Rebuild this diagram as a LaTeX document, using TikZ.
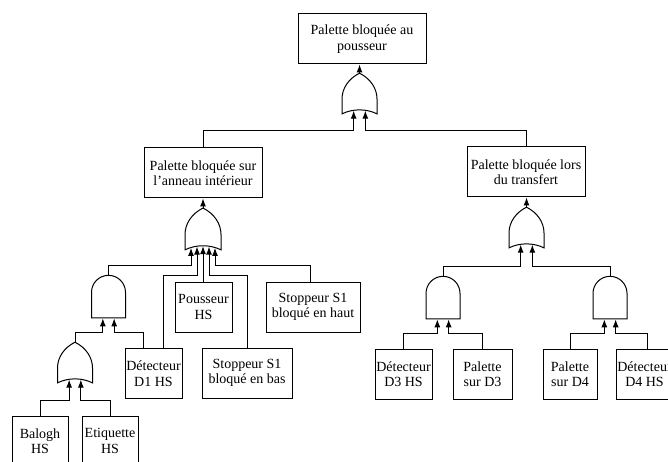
\documentclass[tikz,border=0pt]{standalone}
\usepackage{fontspec}
\setmainfont{Liberation Serif}
\usetikzlibrary{shapes.gates.logic.US,arrows.meta}

\tikzset{
  box/.style={draw, line width=1pt, align=center, inner sep=0pt,
    minimum width=57pt, minimum height=50pt, font=\fontsize{14}{15.5}\selectfont},
  orgate/.style={or gate US, draw, line width=1pt, rotate=90, xscale=0.85, inner sep=0pt,
    minimum width=34pt, minimum height=35pt},
  andgate/.style={and gate US, draw, line width=1pt, rotate=90, inner sep=0pt,
    minimum width=34pt, minimum height=34pt},
  conn/.style={line width=1pt},
  arr/.style={conn, -{Latex[length=8pt,width=6pt]}},
}

\begin{document}
\begin{tikzpicture}[x=1pt,y=-1pt]
\useasboundingbox (0,0) rectangle (668,462);
\clip (0,0) rectangle (668,462);

% Top event
\node[box, minimum width=128pt] (top) at (362,39) {Palette bloquée au\\pousseur};
\node[orgate] (gtop) at (359.5,96.5) {};

% Second level
\node[box, minimum width=118pt] (lmid) at (203,173) {Palette bloquée sur\\l'anneau intérieur};
\node[box, minimum width=118pt] (rmid) at (526,172) {Palette bloquée lors\\du transfert};
\node[orgate, logic gate inputs=nnnnn, minimum width=37pt, minimum height=36pt] (glmid) at (203,232) {};
\node[orgate] (grmid) at (526.5,230.5) {};

% Left branch
\node[andgate] (gand1) at (108.5,298) {};
\node[box] (pous) at (203.5,307) {Pousseur\\HS};
\node[box, minimum width=94pt] (stoph) at (313,307) {Stoppeur S1\\bloqué en haut};
\node[box] (d1) at (153.5,373.5) {Détecteur\\D1 HS};
\node[box, minimum width=90pt] (stopb) at (247,373) {Stoppeur S1\\bloqué en bas};
\node[orgate] (gor2) at (75,365.5) {};
\node[box, minimum width=56pt] (balogh) at (40,441) {Balogh\\HS};
\node[box, minimum width=56pt] (etiq) at (110,441) {Etiquette\\HS};

% Right branch
\node[andgate] (gand2) at (443,299) {};
\node[andgate] (gand3) at (610,299) {};
\node[box] (d3) at (403.5,374) {Détecteur\\D3 HS};
\node[box, minimum width=59pt] (pd3) at (482.5,374) {Palette\\sur D3};
\node[box, minimum width=54pt] (pd4) at (570,374) {Palette\\sur D4};
\node[box] (d4) at (644.5,374) {Détecteur\\D4 HS};

% Levels of the horizontal runs
\coordinate (lv1) at (0,131);
\coordinate (lv2) at (0,265);
\coordinate (lv3) at (0,275);
\coordinate (lv4) at (0,332);
\coordinate (lv5) at (0,400);
\coordinate (lv6) at (0,266);
\coordinate (lv7) at (0,333);

% Outputs
\draw[arr] (gtop.output) -- (gtop.output |- top.south);
\draw[arr] (glmid.output) -- (glmid.output |- lmid.south);
\draw[arr] (grmid.output) -- (grmid.output |- rmid.south);

% Into the top gate
\draw[arr] (lmid.north) |- (gtop.input 1 |- lv1) -- (gtop.input 1);
\draw[arr] (rmid.north) |- (gtop.input 2 |- lv1) -- (gtop.input 2);

% Into the left gate
\draw[arr] (gand1.output) |- (glmid.input 1 |- lv2) -- (glmid.input 1);
\draw[arr] ([xshift=10pt]d1.north) |- (glmid.input 2 |- lv3) -- (glmid.input 2);
\draw[arr] (glmid.input 3 |- pous.north) -- (glmid.input 3);
\draw[arr] (stopb.north) |- (glmid.input 4 |- lv3) -- (glmid.input 4);
\draw[arr] ([xshift=-3pt]stoph.north) |- (glmid.input 5 |- lv2) -- (glmid.input 5);

% Into the and gate
\draw[arr] (gor2.output) |- (gand1.input 1 |- lv4) -- (gand1.input 1);
\draw[arr] ([xshift=-10pt]d1.north) |- (gand1.input 2 |- lv4) -- (gand1.input 2);

% Into the small or gate
\draw[arr] (balogh.north) |- (gor2.input 1 |- lv5) -- (gor2.input 1);
\draw[arr] (etiq.north) |- (gor2.input 2 |- lv5) -- (gor2.input 2);

% Into the right gate
\draw[arr] (gand2.output) |- (grmid.input 1 |- lv6) -- (grmid.input 1);
\draw[arr] (gand3.output) |- (grmid.input 2 |- lv6) -- (grmid.input 2);

% Into the right and gates
\draw[arr] (d3.north) |- (gand2.input 1 |- lv7) -- (gand2.input 1);
\draw[arr] (pd3.north) |- (gand2.input 2 |- lv7) -- (gand2.input 2);
\draw[arr] (pd4.north) |- (gand3.input 1 |- lv7) -- (gand3.input 1);
\draw[arr] ([xshift=3pt]d4.north) |- (gand3.input 2 |- lv7) -- (gand3.input 2);

\end{tikzpicture}
\end{document}
